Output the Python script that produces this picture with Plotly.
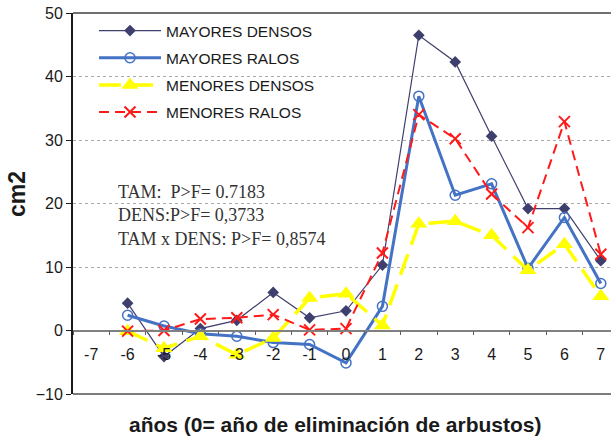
import plotly.graph_objects as go

years = ["-7", "-6", "-5", "-4", "-3", "-2", "-1", "0", "1", "2", "3", "4", "5", "6", "7"]
x_years = ["-6", "-5", "-4", "-3", "-2", "-1", "0", "1", "2", "3", "4", "5", "6", "7"]

mayores_densos = [4.3, -4.1, 0.3, 1.6, 6.0, 2.0, 3.1, 10.3, 46.5, 42.3, 30.6, 19.2, 19.2, 11.0]
mayores_ralos = [2.4, 0.7, -0.5, -0.9, -1.9, -2.2, -5.1, 3.8, 36.9, 21.3, 23.1, 9.8, 17.8, 7.4]
menores_densos = [-0.1, -2.8, -0.9, -3.8, -1.2, 5.1, 5.8, 0.8, 16.8, 17.2, 15.0, 9.5, 13.6, 5.4]
menores_ralos = [-0.1, 0.0, 1.8, 2.0, 2.5, 0.1, 0.3, 12.2, 34.0, 30.2, 21.5, 16.2, 32.9, 12.0]

stats_lines = ["TAM:  P>F= 0.7183", "DENS:P>F= 0,3733", "TAM x DENS: P>F= 0,8574"]

W, H = 611, 437
L, R, T, B = 73, 0, 13, 43
pw, ph = W - L - R, H - T - B


def px_x(p):
    return (p - L) / pw


def px_y(p):
    return (H - B - p) / ph


fig = go.Figure()

fig.add_trace(go.Scatter(
    x=x_years, y=mayores_densos, name="MAYORES DENSOS", mode="lines+markers",
    line=dict(color="#3F3F6E", width=1.2),
    marker=dict(symbol="diamond", size=9, color="#3F3F6E"),
    legendgroup="a"))
fig.add_trace(go.Scatter(
    x=x_years, y=mayores_ralos, name="MAYORES RALOS", mode="lines+markers",
    line=dict(color="#4472C4", width=3),
    marker=dict(symbol="circle-open", size=10, color="#4472C4", line=dict(width=1.5)),
    legendgroup="b"))
fig.add_trace(go.Scatter(
    x=x_years, y=menores_densos, name="MENORES DENSOS", mode="lines+markers",
    line=dict(color="#FFFF00", width=3.5, dash="22px,10px"),
    marker=dict(symbol="triangle-up", size=15, color="#FFFF00"),
    legendgroup="c"))
fig.add_trace(go.Scatter(
    x=x_years, y=menores_ralos, name="MENORES RALOS", mode="lines+markers",
    line=dict(color="#FF1A1A", width=2, dash="10px,6px"),
    marker=dict(symbol="x-thin", size=11, color="#FF1A1A", line=dict(width=2, color="#FF1A1A")),
    legendgroup="d"))

shapes = [
    dict(type="rect", xref="paper", yref="paper", x0=px_x(95), x1=px_x(342),
         y0=px_y(128), y1=px_y(15), fillcolor="white", line=dict(width=0), layer="between"),
    dict(type="rect", xref="paper", yref="paper", x0=px_x(95), x1=px_x(342),
         y0=px_y(250), y1=px_y(176), fillcolor="white", line=dict(width=0), layer="between"),
    dict(type="line", xref="paper", yref="paper", x0=0, x1=1, y0=1, y1=1,
         line=dict(color="#404040", width=1.5), layer="above"),
    dict(type="line", xref="paper", yref="paper", x0=0, x1=1, y0=0, y1=0,
         line=dict(color="#505050", width=1.5), layer="above"),
]

fig.update_layout(
    width=W, height=H,
    margin=dict(l=L, r=R, t=T, b=B, pad=0),
    paper_bgcolor="white", plot_bgcolor="white",
    font=dict(family="Arial, Liberation Sans, sans-serif", size=15, color="#1a1a1a"),
    showlegend=True,
    legend=dict(x=px_x(94), y=px_y(14), xanchor="left", yanchor="top",
                bgcolor="rgba(0,0,0,0)", itemwidth=62, tracegroupgap=4,
                font=dict(size=15.5, color="#1a1a1a")),
    shapes=shapes,
    xaxis=dict(
        type="category", categoryorder="array", categoryarray=years,
        tickmode="array", tickvals=years, ticktext=years,
        range=[-0.5, 14.28], anchor="free", position=1 / 6,
        showline=True, linecolor="#808080", linewidth=1.5,
        ticks="outside", tickson="boundaries", ticklen=4, tickcolor="#606060",
        ticklabelstandoff=10, showgrid=False, zeroline=False,
        tickfont=dict(size=16, color="#1a1a1a"),
    ),
    yaxis=dict(
        range=[-10, 50], tickmode="array", tickvals=[-10, 0, 10, 20, 30, 40, 50],
        showline=True, linecolor="#1a1a1a", linewidth=2,
        ticks="outside", ticklen=5, tickcolor="#1a1a1a",
        showgrid=True, gridcolor="#aaaaaa", griddash="dot", gridwidth=1,
        zeroline=False, tickfont=dict(size=16, color="#1a1a1a"),
    ),
    annotations=[
        dict(text="<br>".join(stats_lines), xref="paper", yref="paper",
             x=px_x(116), y=px_y(180), xanchor="left", yanchor="top", align="left",
             showarrow=False,
             font=dict(family="Liberation Serif, Times New Roman, serif", size=18, color="#333333")),
        dict(text="<b>años (0= año de eliminación de arbustos)</b>", xref="paper", yref="paper",
             x=px_x(335), y=px_y(424), xanchor="center", yanchor="middle", showarrow=False,
             font=dict(size=21, color="#1a1a1a")),
        dict(text="<b>cm2</b>", xref="paper", yref="paper", x=px_x(17), y=px_y(194),
             xanchor="center", yanchor="middle", textangle=-90, showarrow=False,
             font=dict(size=23, color="#1a1a1a")),
    ],
)

fig.write_html("out.html")
